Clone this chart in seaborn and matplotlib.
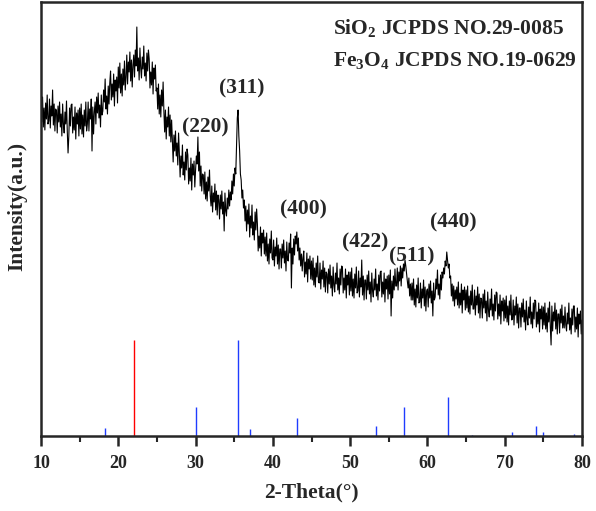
import numpy as np
import pandas as pd
import matplotlib
matplotlib.use("Agg")
import matplotlib.pyplot as plt
import seaborn as sns

# ---------------- data ----------------
two_theta = np.round(np.linspace(10, 80, 701), 1)
intensity = [
    335, 314, 339, 309, 328, 306, 333, 317, 341, 312,
    315, 337, 308, 330, 320, 346, 311, 332, 305, 327,
    325, 303, 330, 314, 334, 309, 322, 300, 332, 312,
    303, 324, 312, 335, 305, 283, 300, 328, 310, 331,
    332, 303, 319, 306, 329, 297, 323, 312, 326, 300,
    328, 307, 332, 302, 321, 299, 326, 310, 334, 305,
    312, 334, 305, 327, 317, 337, 285, 329, 302, 324,
    334, 312, 339, 323, 343, 318, 331, 309, 341, 321,
    325, 346, 334, 357, 327, 340, 322, 350, 332, 353,
    365, 336, 352, 339, 362, 330, 356, 345, 359, 333,
    369, 348, 373, 343, 362, 340, 367, 351, 375, 346,
    359, 381, 352, 374, 364, 384, 355, 376, 349, 371,
    381, 359, 386, 370, 409, 365, 378, 356, 388, 368,
    358, 379, 367, 390, 360, 373, 355, 383, 365, 386,
    377, 348, 364, 351, 374, 342, 368, 357, 371, 345,
    348, 327, 352, 322, 341, 319, 346, 330, 354, 325,
    304, 326, 297, 319, 309, 329, 300, 321, 294, 316,
    296, 274, 301, 285, 305, 280, 293, 271, 303, 283,
    259, 280, 268, 291, 261, 274, 256, 284, 266, 287,
    281, 252, 268, 255, 278, 246, 272, 261, 275, 249,
    266, 280, 272, 299, 265, 284, 250, 270, 245, 262,
    261, 242, 264, 237, 254, 235, 259, 245, 266, 240,
    230, 250, 224, 243, 234, 252, 226, 245, 221, 241,
    236, 217, 241, 227, 245, 222, 234, 205, 243, 225,
    220, 238, 227, 246, 230, 244, 236, 255, 242, 262,
    250, 268, 262, 292, 318, 326, 300, 285, 262, 256,
    238, 246, 228, 236, 215, 230, 205, 226, 212, 232,
    199, 220, 208, 231, 201, 214, 196, 224, 206, 227,
    212, 185, 200, 188, 209, 180, 203, 193, 206, 182,
    199, 180, 203, 175, 192, 172, 197, 183, 205, 178,
    176, 196, 170, 189, 180, 198, 172, 191, 167, 187,
    187, 168, 192, 178, 196, 173, 185, 165, 194, 176,
    175, 193, 183, 202, 148, 188, 172, 197, 181, 200,
    192, 204, 185, 198, 176, 188, 170, 182, 165, 178,
    185, 159, 174, 162, 183, 154, 177, 167, 180, 157,
    175, 156, 178, 151, 168, 149, 173, 159, 180, 154,
    153, 173, 147, 166, 157, 175, 149, 168, 144, 164,
    162, 143, 167, 152, 171, 148, 160, 140, 169, 151,
    144, 163, 152, 173, 146, 158, 142, 167, 151, 170,
    169, 143, 158, 146, 167, 138, 161, 151, 164, 141,
    164, 145, 168, 140, 157, 138, 162, 148, 169, 143,
    145, 165, 139, 158, 149, 176, 141, 160, 136, 156,
    156, 137, 161, 146, 165, 142, 154, 134, 163, 145,
    139, 157, 146, 167, 140, 152, 136, 161, 145, 164,
    165, 139, 154, 142, 163, 134, 157, 147, 160, 137,
    161, 142, 166, 120, 155, 138, 160, 146, 167, 150,
    150, 168, 146, 164, 155, 170, 150, 168, 158, 172,
    165, 176, 170, 162, 155, 148, 158, 140, 152, 136,
    153, 136, 157, 131, 147, 129, 151, 138, 158, 133,
    134, 153, 128, 147, 138, 156, 130, 149, 125, 145,
    147, 129, 152, 138, 155, 133, 145, 120, 153, 136,
    139, 157, 147, 166, 141, 152, 137, 161, 146, 164,
    158, 168, 162, 175, 170, 184, 176, 168, 172, 158,
    160, 140, 152, 135, 150, 130, 146, 137, 149, 131,
    154, 128, 143, 131, 152, 123, 146, 136, 149, 126,
    146, 128, 150, 124, 140, 122, 145, 131, 151, 127,
    127, 146, 121, 140, 131, 149, 123, 142, 118, 138,
    137, 118, 142, 128, 146, 123, 135, 115, 144, 126,
    119, 137, 126, 147, 120, 132, 116, 141, 125, 144,
    143, 117, 132, 120, 141, 112, 135, 125, 138, 115,
    136, 118, 140, 114, 130, 111, 135, 121, 141, 116,
    117, 136, 111, 130, 121, 139, 113, 132, 108, 128,
    128, 109, 133, 119, 137, 114, 126, 106, 135, 117,
    111, 129, 118, 139, 112, 124, 108, 133, 117, 136,
    135, 109, 124, 112, 133, 104, 127, 117, 130, 107,
    129, 111, 133, 107, 123, 104, 128, 114, 134, 109,
    91, 130, 105, 124, 115, 133, 107, 126, 102, 122,
    122, 103, 127, 113, 131, 108, 120, 108, 129, 111,
    105, 123, 112, 133, 106, 118, 102, 127, 111, 130,
    130, 104, 119, 107, 128, 99, 122, 112, 125, 102,
    116,
]

# reference patterns (relative intensity, %)
sio2_pos = [22.0]
sio2_rel = [100]
fe3o4_pos = [18.3, 30.1, 35.5, 37.1, 43.1, 53.4, 57.0, 62.6, 65.8, 71.0, 74.0, 75.0, 79.0]
fe3o4_rel = [8, 30, 100, 7, 19, 10, 30, 40, 1, 4, 10, 4, 2]

peak_labels = ["(220)", "(311)", "(400)", "(422)", "(511)", "(440)"]
peak_label_x = [31.3, 36.0, 43.9, 51.9, 58.0, 63.4]
peak_label_y = [309, 348, 227, 194, 180, 214]

legend_lines = [r"SiO$_2$ JCPDS NO.29-0085", r"Fe$_3$O$_4$ JCPDS NO.19-0629"]
xticks = [10, 20, 30, 40, 50, 60, 70, 80]
xlabel = "2-Theta(°)"
ylabel = "Intensity(a.u.)"

# ---------------- style ----------------
sns.set_style("ticks")
plt.rcParams["font.family"] = ["Liberation Serif", "DejaVu Serif"]
plt.rcParams["font.weight"] = "bold"
plt.rcParams["mathtext.fontset"] = "custom"
plt.rcParams["mathtext.rm"] = "Liberation Serif:bold"
plt.rcParams["mathtext.it"] = "Liberation Serif:bold"
plt.rcParams["mathtext.bf"] = "Liberation Serif:bold"
plt.rcParams["mathtext.default"] = "rm"

fig = plt.figure(figsize=(5.96, 5.11), dpi=100)
ax = fig.add_axes([41 / 596, 75 / 511, 541 / 596, 434 / 511])

df = pd.DataFrame({"two_theta": two_theta, "intensity": intensity})
sns.lineplot(data=df, x="two_theta", y="intensity", ax=ax, color="black",
             linewidth=0.8, estimator=None, sort=False)

scale = 0.965
ax.vlines(sio2_pos, 0, np.array(sio2_rel) * scale, colors="#ff0000", linewidth=1.0)
ax.vlines(fe3o4_pos, 0, np.array(fe3o4_rel) * scale, colors="#1f3cff", linewidth=1.0)

for t, x, y in zip(peak_labels, peak_label_x, peak_label_y):
    ax.text(x, y, t, ha="center", va="center", fontsize=15.5, fontweight="bold")

ax.text(0.54, 0.926, legend_lines[0], transform=ax.transAxes, ha="left",
        va="baseline", fontsize=15.5, fontweight="bold")
ax.text(0.54, 0.853, legend_lines[1], transform=ax.transAxes, ha="left",
        va="baseline", fontsize=15.5, fontweight="bold")

ax.set_xlim(10, 80)
ax.set_ylim(0, 434)
ax.set_xticks(xticks)
ax.set_xticklabels([str(v) for v in xticks], fontsize=13, fontweight="bold")
ax.set_xticks([15, 25, 35, 45, 55, 65, 75], minor=True)
ax.tick_params(axis="x", which="major", direction="out", length=7, width=1.8, pad=7)
ax.tick_params(axis="x", which="minor", direction="out", length=4, width=1.5)
ax.set_yticks([])
ax.set_xlabel(xlabel, fontsize=15.5, fontweight="bold", labelpad=7)
ax.set_ylabel(ylabel, fontsize=15.5, fontweight="bold")
ax.yaxis.set_label_coords(-0.025, 0.53)
for s in ax.spines.values():
    s.set_linewidth(1.8)
    s.set_visible(True)

fig.savefig("out.png", dpi=100)
